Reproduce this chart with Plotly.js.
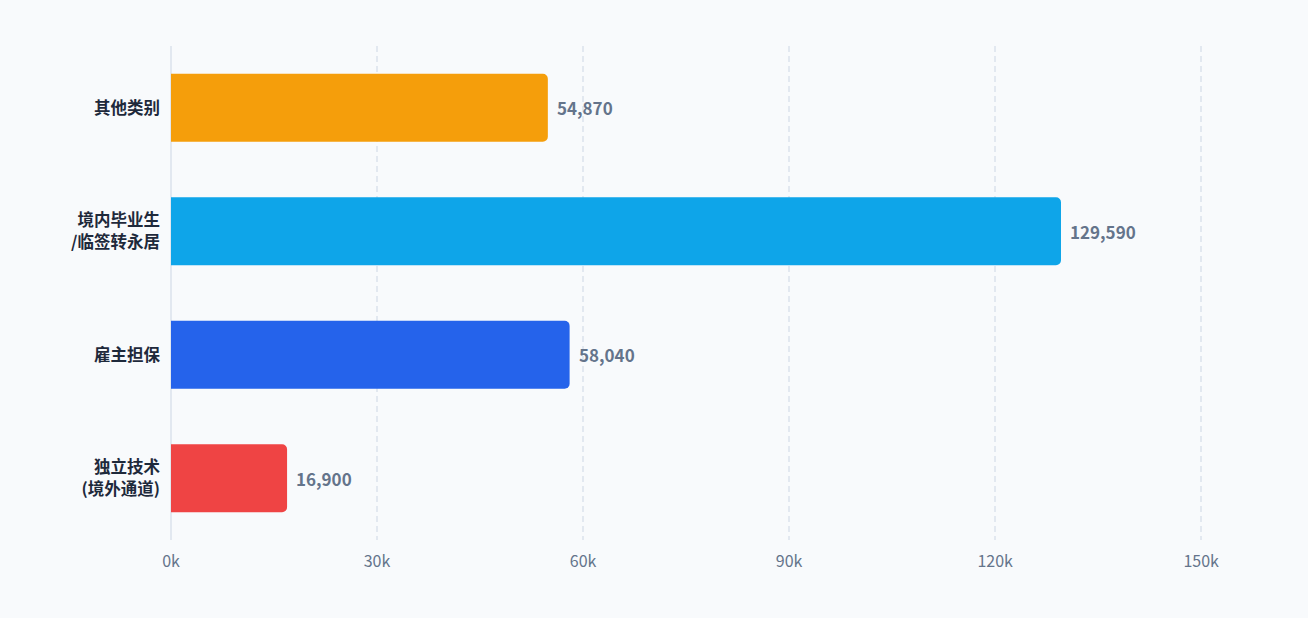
<!DOCTYPE html>
<html>
<head>
<meta charset="utf-8">
<script src="https://cdn.plot.ly/plotly-3.0.1.min.js"></script>
<style>
  html, body { margin: 0; padding: 0; background: #f8fafc; }
  #chart { width: 1308px; height: 618px; }
</style>
</head>
<body>
<div id="chart"></div>
<script>
// bottom to top, as plotly draws a horizontal bar category axis
var categories = ['独立技术<br>(境外通道)', '雇主担保', '境内毕业生<br>/临签转永居', '其他类别']
var values = [16900, 58040, 129590, 54870]
var barColors = ['#ef4444', '#2563eb', '#0ea5e9', '#f59e0b']
var tickValues = [0, 30000, 60000, 90000, 120000, 150000]
var tickLabels = ['0k', '30k', '60k', '90k', '120k', '150k']

var font = '"Noto Sans CJK SC", "Noto Sans", sans-serif'

var trace = {
  type: 'bar',
  orientation: 'h',
  y: categories,
  x: values,
  marker: { color: barColors },
  hoverinfo: 'none'
}

// value labels sit a bit further off the bar end than plotly's outside text
var labels = values.map(function (v, i) {
  return {
    x: v,
    y: categories[i],
    xref: 'x',
    yref: 'y',
    text: v.toLocaleString('en-US'),
    showarrow: false,
    xanchor: 'left',
    yanchor: 'middle',
    xshift: 7,
    font: { family: font, size: 17, color: '#64748b', weight: 'bold' }
  }
})

var layout = {
  width: 1308,
  height: 618,
  paper_bgcolor: '#f8fafc',
  plot_bgcolor: '#f8fafc',
  margin: { l: 171, r: 69, t: 46, b: 78 },
  showlegend: false,
  bargap: 0.45,
  barcornerradius: 5,
  font: { family: font },
  annotations: labels,
  xaxis: {
    range: [0, 155508],
    tickvals: tickValues,
    ticktext: tickLabels,
    showgrid: true,
    gridcolor: '#e2e8f0',
    griddash: '6px,4px',
    gridwidth: 1.5,
    zeroline: true,
    zerolinecolor: '#e2e8f0',
    zerolinewidth: 2,
    showline: false,
    tickfont: { family: font, size: 16, color: '#64748b' },
    ticklabelstandoff: 10,
    fixedrange: true
  },
  yaxis: {
    showgrid: false,
    zeroline: false,
    showline: false,
    tickfont: { family: font, size: 16.5, color: '#1e293b', weight: 'bold' },
    ticklabelstandoff: 10,
    fixedrange: true
  }
}

Plotly.newPlot('chart', [trace], layout, { displayModeBar: false, staticPlot: true })
</script>
</body>
</html>
